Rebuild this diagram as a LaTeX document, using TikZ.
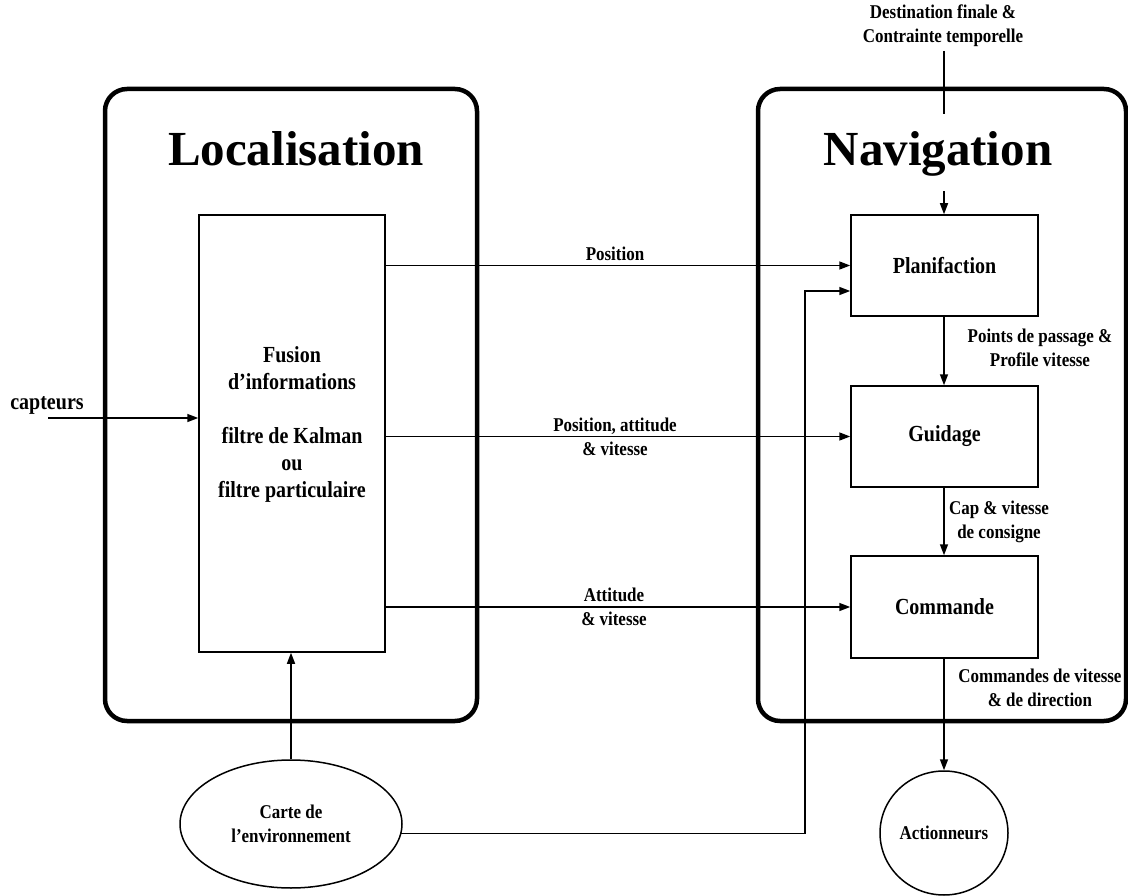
\documentclass[tikz,border=0pt]{standalone}
\usepackage{fontspec}
\setmainfont{Liberation Serif}
\newfontfamily\labfont{Liberation Serif}[FakeStretch=0.87]
\usetikzlibrary{arrows.meta,shapes.geometric}
\begin{document}
\begin{tikzpicture}[x=1pt,y=-1pt,
  thin/.style={line width=1.5pt},
  arr/.style={line width=1.5pt,-{Triangle[length=11pt,width=8pt]}},
  bigbox/.style={line width=4.5pt,rounded corners=22pt},
  blk/.style={draw,line width=1.5pt,inner sep=0pt,font=\labfont\bfseries\fontsize{23}{27}\selectfont,align=center},
  boxtext/.style={inner sep=0pt,font=\labfont\bfseries\fontsize{23}{27}\selectfont,align=center},
  lbl/.style={inner sep=0pt,font=\labfont\bfseries\fontsize{19.5}{24}\selectfont,align=center},
  ttl/.style={anchor=base,inner sep=0pt,text height=52pt,text depth=25pt,font=\bfseries\fontsize{49}{55}\selectfont},
  ell/.style={ellipse,draw,line width=1.5pt,inner sep=0pt,font=\labfont\bfseries\fontsize{19.5}{24}\selectfont,align=center}]
\useasboundingbox (0,0) rectangle (1128,896);

% big frames
\draw[bigbox] (105,89) rectangle (477,721);
\draw[bigbox] (758,89) rectangle (1126,721);

% titles
\node[ttl] (loctitle) at (296,166) {Localisation};
\node[ttl] (navtitle) at (938,166) {Navigation};

% blocks
\node[blk,minimum width=186pt,minimum height=437pt] (fusion) at (292,433.5) {};
\node[boxtext] (fusiontext) at (292,424) {Fusion\\d’informations\\[27pt]filtre de Kalman\\ou\\filtre particulaire};
\node[blk,minimum width=187pt,minimum height=101pt] (planif) at (944.5,265.5) {Planifaction};
\node[blk,minimum width=187pt,minimum height=101pt] (guidage) at (944.5,436.5) {Guidage};
\node[blk,minimum width=187pt,minimum height=102pt] (commande) at (944.5,607) {Commande};

\node[ell,minimum width=222pt,minimum height=128pt] (carte) at (291,824) {Carte de\\l’environnement};
\node[ell,minimum width=128pt,minimum height=124pt] (action) at (944,833) {Actionneurs};

% inputs
\node[lbl] (dest) at (943,26) {Destination finale \&\\Contrainte temporelle};
\coordinate (destend) at (944,51);
\draw[thin] (destend) -- (destend |- navtitle.north);
\draw[arr] (destend |- navtitle.south) -- (destend |- planif.north);

\node[boxtext] (capt) at (47,405) {capteurs};
\coordinate (capin) at (48,418);
\draw[arr] (capin) -- (capin -| fusion.west);

% localisation -> navigation
\draw[arr] (fusion.east |- planif.west) -- (planif.west);
\draw[arr] (fusion.east |- guidage.west) -- (guidage.west);
\draw[arr] (fusion.east |- commande.west) -- (commande.west);
\node[lbl] (l1) at (615,254) {Position};
\node[lbl] (l2) at (615,437) {Position, attitude\\\& vitesse};
\node[lbl] (l3) at (614,607) {Attitude\\\& vitesse};

% navigation chain
\draw[arr] (destend |- planif.south) -- (destend |- guidage.north);
\draw[arr] (destend |- guidage.south) -- (destend |- commande.north);
\draw[arr] (destend |- commande.south) -- (action.north);
\node[lbl] (l4) at (1040,348) {Points de passage \&\\Profile vitesse};
\node[lbl] (l5) at (999,522) {Cap \& vitesse\\de consigne};
\node[lbl] (l6) at (1040,688) {Commandes de vitesse\\\& de direction};

% map
\draw[arr] (carte.north) -- (carte.north |- fusion.south);
\coordinate (bend) at (805,291);
\draw[arr] (carte.-5) -| (bend) -- (bend -| planif.west);
\end{tikzpicture}
\end{document}
